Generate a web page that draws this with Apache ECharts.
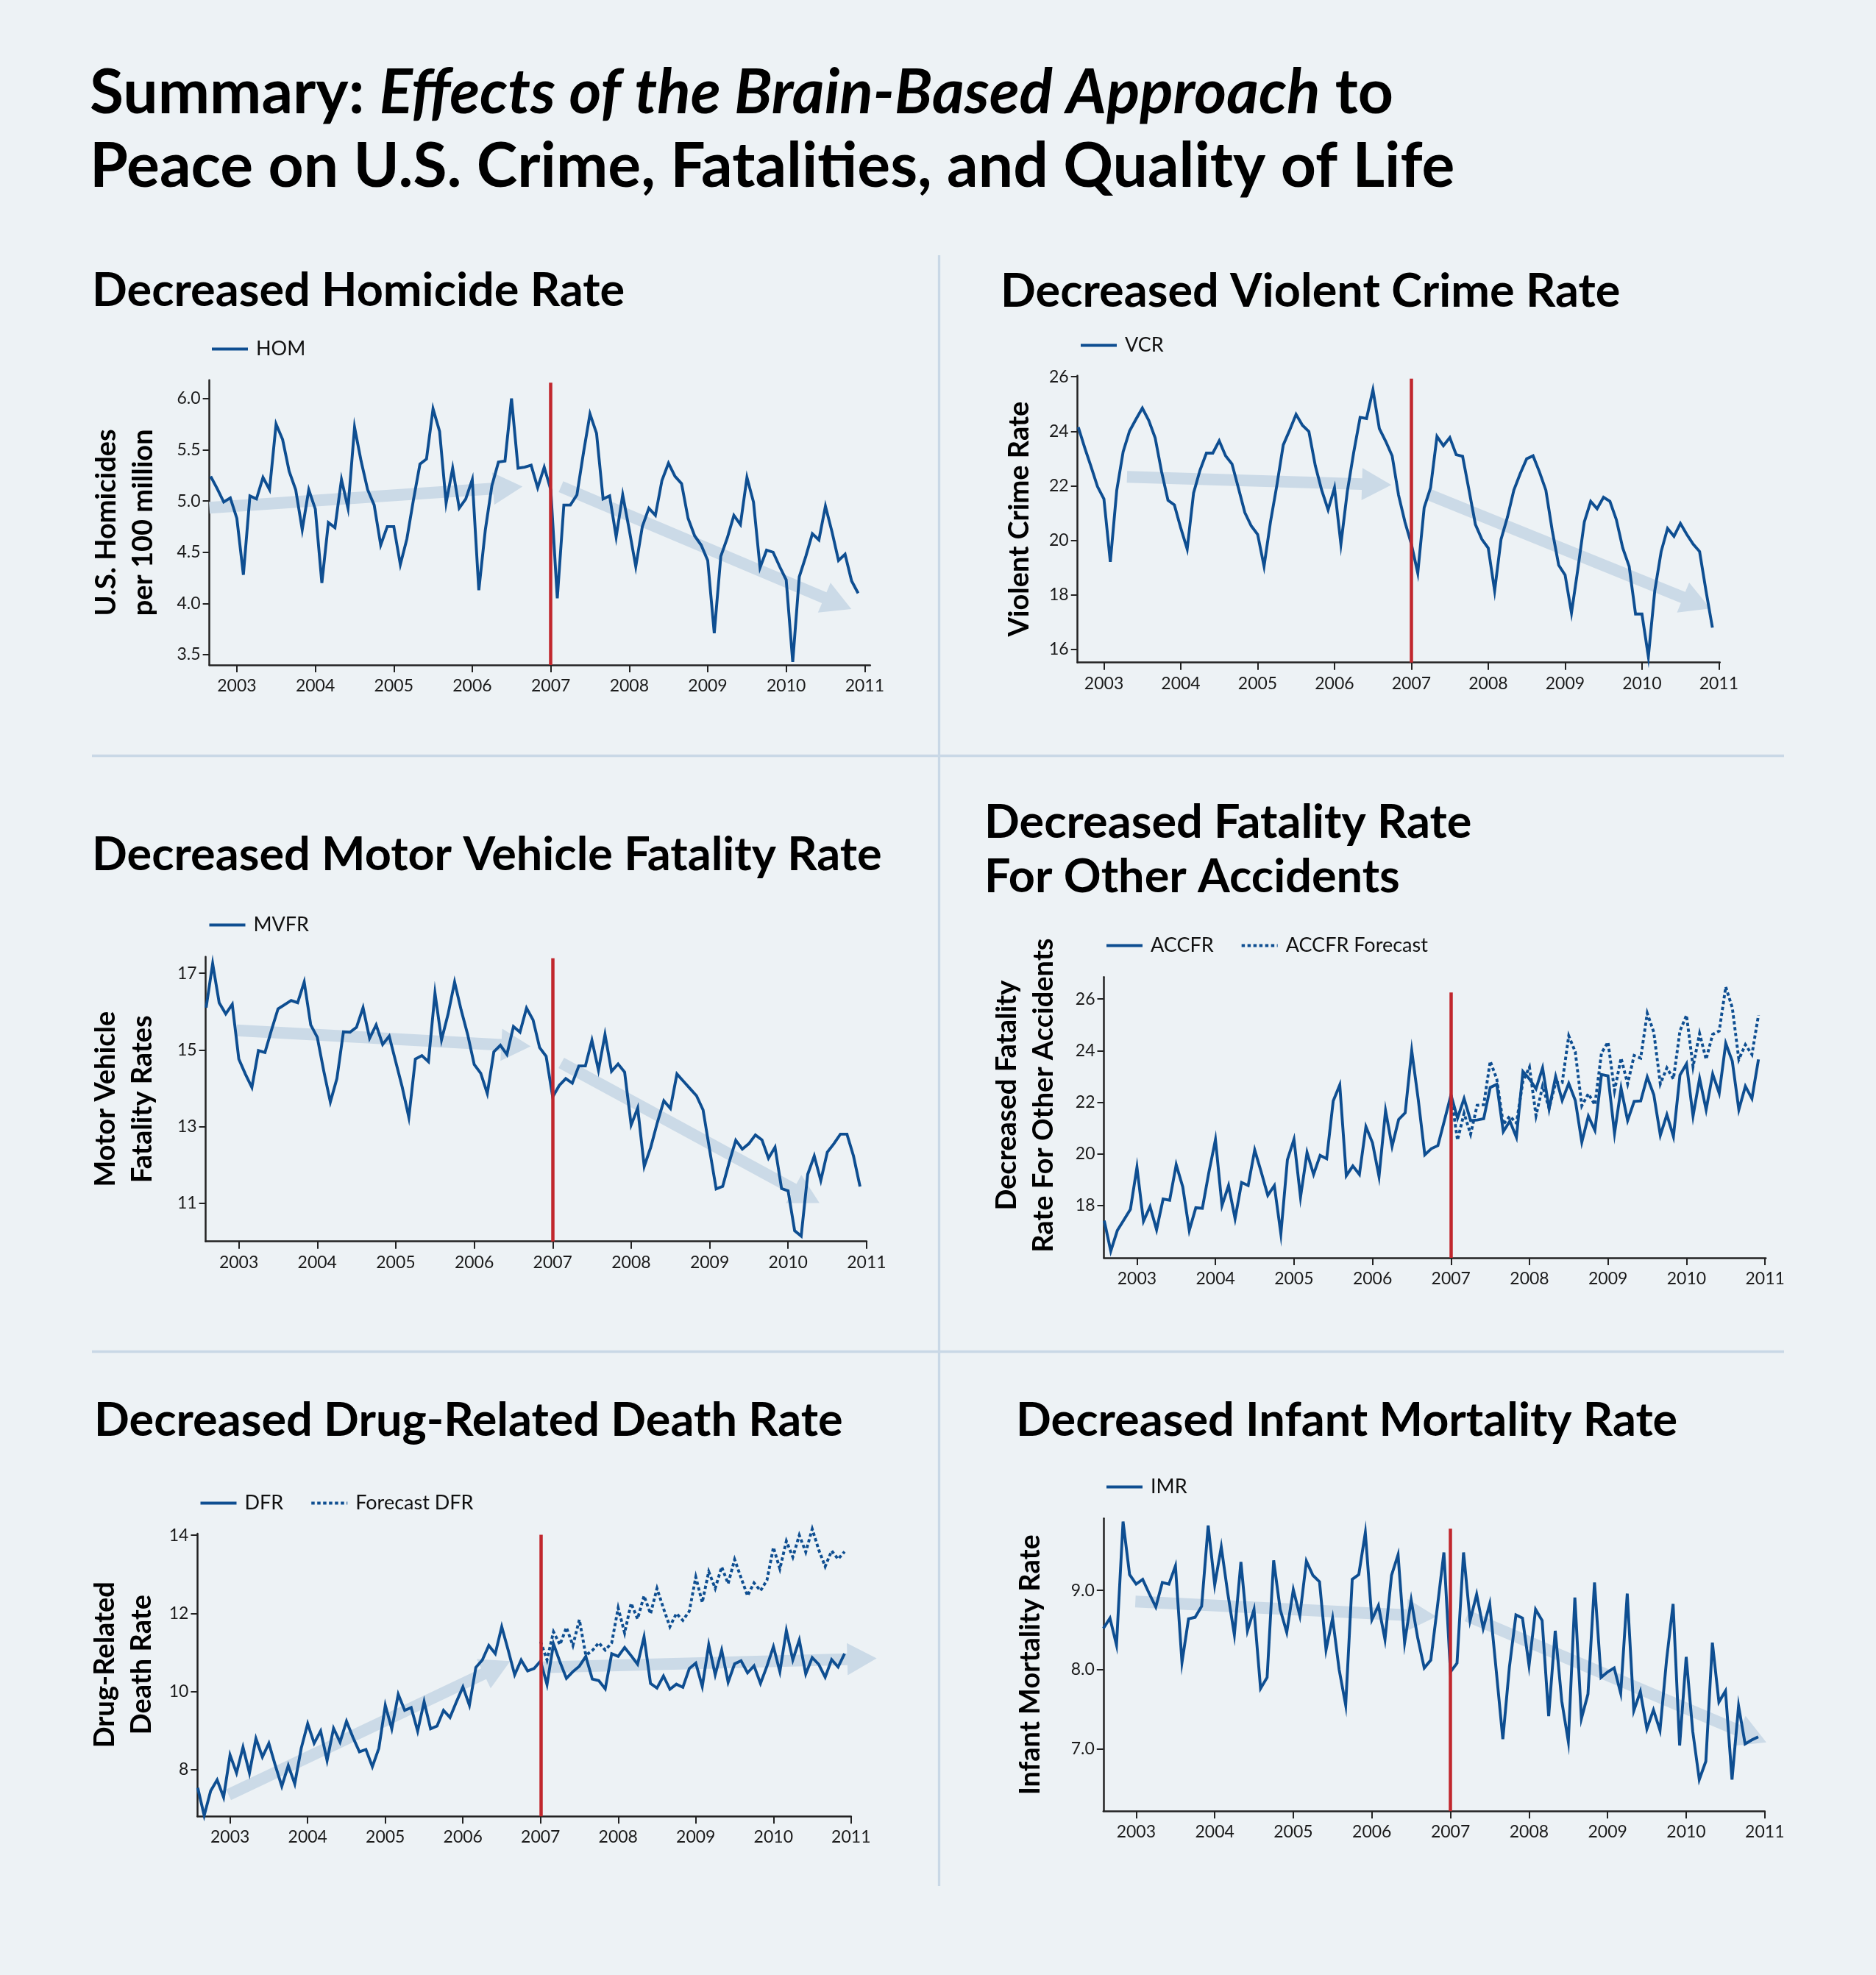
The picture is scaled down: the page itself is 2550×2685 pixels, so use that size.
<!DOCTYPE html>
<html>
<head>
<meta charset="utf-8">
<script src="https://cdn.jsdelivr.net/npm/echarts@6/dist/echarts.min.js"></script>
<style>
html,body{margin:0;padding:0;background:#EDF2F5;}
#chart{width:2550px;height:2685px;}
</style>
</head>
<body>
<div id="chart"></div>
<script>
// ---------------- DATA ----------------
const yearTicks = [2003, 2004, 2005, 2006, 2007, 2008, 2009, 2010, 2011];
const interventionYear = 2007;

// Monthly series. HOM and VCR start Sep 2002, the others Aug 2002; all end Dec 2010.
const homStart = [2002, 9];
const hom = [5.24, 5.12, 4.99, 5.03,
  4.83, 4.28, 5.05, 5.02, 5.23, 5.11, 5.75, 5.60, 5.29, 5.11, 4.72, 5.11,
  4.92, 4.20, 4.79, 4.74, 5.21, 4.93, 5.72, 5.39, 5.11, 4.96, 4.57, 4.75,
  4.75, 4.38, 4.63, 5.01, 5.36, 5.41, 5.90, 5.68, 4.98, 5.32, 4.93, 5.02,
  5.21, 4.13, 4.72, 5.15, 5.38, 5.39, 6.00, 5.32, 5.33, 5.35, 5.13, 5.33,
  5.11, 4.05, 4.96, 4.96, 5.06, 5.47, 5.85, 5.66, 5.02, 5.05, 4.65, 5.06,
  4.72, 4.36, 4.75, 4.93, 4.86, 5.20, 5.37, 5.24, 5.17, 4.83, 4.66, 4.57,
  4.42, 3.71, 4.46, 4.64, 4.86, 4.77, 5.23, 4.99, 4.35, 4.52, 4.50, 4.36,
  4.23, 3.43, 4.26, 4.46, 4.68, 4.62, 4.95, 4.70, 4.42, 4.48, 4.22, 4.10];

const vcrStart = [2002, 9];
const vcr = [24.15, 23.4, 22.7, 21.97,
  21.52, 19.21, 21.83, 23.25, 24.01, 24.44, 24.85, 24.4, 23.76, 22.52, 21.47, 21.30,
  20.45, 19.68, 21.74, 22.57, 23.2, 23.2, 23.65, 23.1, 22.8, 21.92, 21.02, 20.53,
  20.22, 19.05, 20.67, 22.02, 23.5, 24.04, 24.62, 24.22, 23.99, 22.74, 21.84, 21.12,
  21.93, 19.86, 21.79, 23.23, 24.51, 24.47, 25.52, 24.1, 23.63, 23.1, 21.66, 20.67,
  19.86, 18.8, 21.2, 21.93, 23.81, 23.47, 23.77, 23.14, 23.08, 21.84, 20.58, 20.04,
  19.72, 18.15, 20.04, 20.85, 21.84, 22.45, 22.99, 23.1, 22.51, 21.84, 20.35, 19.09,
  18.73, 17.34, 18.96, 20.67, 21.43, 21.16, 21.58, 21.43, 20.76, 19.72, 19.05, 17.3,
  17.3, 15.74, 18.15, 19.59, 20.44, 20.15, 20.62, 20.22, 19.86, 19.59, 18.15, 16.8];

const mvfrStart = [2002, 8];
const mvfr = [16.1, 17.25, 16.23, 15.94, 16.19,
  14.76, 14.37, 14.02, 14.98, 14.93, 15.52, 16.07, 16.18, 16.29, 16.23, 16.77, 15.65,
  15.33, 14.44, 13.64, 14.25, 15.47, 15.46, 15.59, 16.1, 15.30, 15.65, 15.14, 15.36,
  14.69, 14.02, 13.24, 14.76, 14.85, 14.69, 16.48, 15.26, 15.93, 16.77, 16.04, 15.4,
  14.62, 14.39, 13.86, 14.95, 15.12, 14.88, 15.61, 15.46, 16.09, 15.78, 15.06, 14.83,
  13.77, 14.07, 14.25, 14.13, 14.58, 14.58, 15.25, 14.47, 15.40, 14.44, 14.63, 14.42,
  13.04, 13.48, 11.96, 12.46, 13.10, 13.67, 13.47, 14.37, 14.18, 13.99, 13.80, 13.43,
  12.39, 11.37, 11.44, 12.07, 12.64, 12.41, 12.55, 12.78, 12.65, 12.17, 12.46, 11.38,
  11.32, 10.28, 10.14, 11.75, 12.23, 11.59, 12.33, 12.55, 12.80, 12.80, 12.23, 11.43];

const accfrStart = [2002, 8];
const accfr = [17.41, 16.23, 17.03, 17.44, 17.85,
  19.48, 17.39, 17.96, 17.06, 18.25, 18.2, 19.58, 18.72, 17.03, 17.91, 17.89, 19.29,
  20.55, 18.0, 18.77, 17.49, 18.89, 18.77, 20.15, 19.29, 18.39, 18.77, 16.9, 19.77,
  20.56, 18.32, 20.05, 19.2, 19.94, 19.81, 22.05, 22.67, 19.15, 19.53, 19.2, 21.05,
  20.43, 19.12, 21.67, 20.29, 21.33, 21.59, 24.0, 22.1, 19.96, 20.2, 20.32, 21.29,
  22.28, 21.38, 22.14, 21.29, 21.31, 21.36, 22.57, 22.69, 20.86, 21.27, 20.64, 23.19,
  22.90, 22.52, 23.33, 21.74, 23.0, 22.07, 22.73, 22.07, 20.45, 21.46, 20.91, 23.07,
  23.02, 20.79, 22.54, 21.29, 22.03, 22.05, 22.98, 22.29, 20.72, 21.52, 20.67, 23.05,
  23.49, 21.46, 22.92, 21.71, 23.09, 22.35, 24.28, 23.59, 21.71, 22.62, 22.14, 23.66];

const accfrForecastStart = [2007, 1];
const accfrForecast = [22.28, 20.53, 21.57, 20.76, 21.88, 21.90, 23.59, 22.90, 21.14, 21.46, 21.19, 22.81,
  23.36, 21.48, 22.62, 21.76, 22.76, 22.76, 24.57, 23.95, 21.86, 22.33, 21.90, 23.90,
  24.33, 22.45, 23.71, 22.71, 23.81, 23.71, 25.45, 24.71, 22.71, 23.33, 22.90, 24.76,
  25.37, 23.38, 24.66, 23.66, 24.63, 24.76, 26.47, 25.66, 23.66, 24.23, 23.85, 25.37];

const dfrStart = [2002, 8];
const dfr = [7.54, 6.83, 7.46, 7.74, 7.30,
  8.38, 7.92, 8.58, 7.92, 8.80, 8.33, 8.68, 8.11, 7.58, 8.11, 7.64, 8.55,
  9.18, 8.68, 8.99, 8.24, 9.06, 8.71, 9.24, 8.83, 8.46, 8.52, 8.08, 8.55,
  9.65, 9.05, 9.93, 9.52, 9.59, 8.99, 9.74, 9.05, 9.12, 9.52, 9.34, 9.74,
  10.12, 9.65, 10.62, 10.81, 11.18, 10.97, 11.66, 11.06, 10.43, 10.81, 10.53, 10.59,
  10.78, 10.18, 11.22, 10.76, 10.34, 10.51, 10.65, 10.90, 10.32, 10.28, 10.07, 10.97,
  10.90, 11.13, 10.92, 10.70, 11.40, 10.21, 10.09, 10.40, 10.06, 10.19, 10.11, 10.59,
  10.73, 10.13, 11.20, 10.43, 11.06, 10.24, 10.71, 10.79, 10.48, 10.66, 10.21, 10.65,
  11.15, 10.51, 11.56, 10.81, 11.32, 10.45, 10.87, 10.70, 10.37, 10.82, 10.63, 10.97];

const dfrForecastStart = [2007, 1];
const dfrForecast = [11.28, 10.81, 11.53, 11.20, 11.64, 11.18, 11.84, 10.93, 11.05, 11.25, 11.06, 11.25,
  12.14, 11.50, 12.26, 11.86, 12.45, 11.99, 12.64, 12.13, 11.66, 12.00, 11.82, 12.06,
  12.93, 12.28, 13.07, 12.64, 13.19, 12.76, 13.38, 12.91, 12.45, 12.78, 12.58, 12.85,
  13.69, 13.14, 13.85, 13.44, 14.00, 13.57, 14.16, 13.63, 13.20, 13.60, 13.39, 13.58];

const imrStart = [2002, 8];
const imr = [8.52, 8.65, 8.31, 9.87, 9.20,
  9.08, 9.14, 8.96, 8.79, 9.10, 9.08, 9.31, 8.09, 8.64, 8.66, 8.80, 9.82,
  9.07, 9.55, 8.96, 8.44, 9.36, 8.49, 8.76, 7.76, 7.90, 9.38, 8.76, 8.47,
  9.01, 8.68, 9.37, 9.19, 9.11, 8.25, 8.65, 8.00, 7.55, 9.14, 9.20, 9.73,
  8.63, 8.81, 8.38, 9.19, 9.45, 8.34, 8.88, 8.40, 8.02, 8.12, 8.79, 9.48,
  7.97, 8.08, 9.48, 8.62, 8.95, 8.52, 8.83, 7.98, 7.12, 8.03, 8.69, 8.65,
  8.05, 8.76, 8.62, 7.41, 8.49, 7.60, 7.09, 8.91, 7.38, 7.69, 9.10, 7.90,
  7.97, 8.02, 7.70, 8.96, 7.48, 7.72, 7.25, 7.49, 7.23, 8.12, 8.83, 7.04,
  8.16, 7.22, 6.61, 6.84, 8.34, 7.59, 7.73, 6.61, 7.54, 7.06, 7.11, 7.15];

// Trend arrows: [fromYear, fromValue, toYear, toValue]
const homArrows = [[2002.65, 4.935, 2006.64, 5.14], [2007.13, 5.14, 2010.83, 3.945]];
const vcrArrows = [[2003.30, 22.33, 2006.74, 22.03], [2007.21, 21.70, 2010.89, 17.5]];
const mvfrArrows = [[2002.97, 15.51, 2006.72, 15.09], [2007.11, 14.66, 2010.40, 11.0]];
const dfrArrows = [[2002.98, 7.36, 2006.61, 10.78], [2007.01, 10.62, 2011.33, 10.85]];
const imrArrows = [[2002.99, 8.86, 2006.82, 8.67], [2007.21, 8.68, 2011.02, 7.08]];

// Axis tick values
const homTicks = [3.5, 4.0, 4.5, 5.0, 5.5, 6.0];
const vcrTicks = [16, 18, 20, 22, 24, 26];
const mvfrTicks = [11, 13, 15, 17];
const accfrTicks = [18, 20, 22, 24, 26];
const dfrTicks = [8, 10, 12, 14];
const imrTicks = [7.0, 8.0, 9.0];

// ---------------- STYLE ----------------
const FONT = 'Lato, "Noto Sans", sans-serif';
const LINE_COLOR = '#0E4E91';
const RED = '#C1272D';
const ARROW = { color: '#CBDAE7', shaft: 16, headWidth: 44, headLength: 40 };

function monthly(start, values) {
  return values.map((v, i) => [start[0] + (start[1] - 1 + i) / 12, v]);
}

const panels = [
  { title: 'Decreased Homicide Rate', titlePos: [125, 364], yName: 'U.S. Homicides\nper 100 million', nameGap: 65, namePad: 0,
    grid: { left: 284.6, top: 516.7, width: 898.2, height: 387.3 }, x: [2002.65, 2011.07], y: [3.40, 6.18], ticks: homTicks, dec: 1, redTop: 6.155,
    legendPos: [286, 461], series: [{ name: 'HOM', start: homStart, data: hom }], arrows: homArrows },
  { title: 'Decreased Violent Crime Rate', titlePos: [1360, 365], yName: 'Violent Crime Rate', nameGap: 54, namePad: 0,
    grid: { left: 1464.7, top: 510.7, width: 873, height: 390 }, x: [2002.657, 2011.013], y: [15.52, 26.04], ticks: vcrTicks, dec: 0, redTop: 25.93,
    legendPos: [1467, 456], series: [{ name: 'VCR', start: vcrStart, data: vcr }], arrows: vcrArrows },
  { title: 'Decreased Motor Vehicle Fatality Rate', titlePos: [125, 1131], yName: 'Motor Vehicle\nFatality Rates', nameGap: 61, namePad: 0,
    grid: { left: 279.6, top: 1300.7, width: 898.3, height: 387 }, x: [2002.578, 2011.0], y: [10.0, 17.43], ticks: mvfrTicks, dec: 0, redTop: 17.39,
    legendPos: [282.5, 1244], series: [{ name: 'MVFR', start: mvfrStart, data: mvfr }], arrows: mvfrArrows },
  { title: 'Decreased Fatality Rate\nFor Other Accidents', titlePos: [1338, 1082], titleLH: 73.5, yName: 'Decreased Fatality\nRate For Other Accidents', nameGap: 57, namePad: 60,
    grid: { left: 1500.5, top: 1328.3, width: 899.7, height: 381.7 }, x: [2002.579, 2011.01], y: [15.97, 26.85], ticks: accfrTicks, dec: 0, redTop: 26.25,
    legendPos: [1502, 1272], series: [{ name: 'ACCFR', start: accfrStart, data: accfr }, { name: 'ACCFR Forecast', start: accfrForecastStart, data: accfrForecast, dotted: true }], arrows: [] },
  { title: 'Decreased Drug-Related Death Rate', titlePos: [128, 1900], yName: 'Drug-Related\nDeath Rate', nameGap: 51, namePad: 28,
    grid: { left: 268.4, top: 2085, width: 888.4, height: 384.3 }, x: [2002.58, 2011.0], y: [6.81, 14.04], ticks: dfrTicks, dec: 0, redTop: 14.01,
    legendPos: [270.5, 2030], series: [{ name: 'DFR', start: dfrStart, data: dfr }, { name: 'Forecast DFR', start: dfrForecastStart, data: dfrForecast, dotted: true }], arrows: dfrArrows },
  { title: 'Decreased Infant Mortality Rate', titlePos: [1381, 1900], yName: 'Infant Mortality Rate', nameGap: 74, namePad: 0,
    grid: { left: 1499.8, top: 2064.3, width: 899, height: 398 }, x: [2002.583, 2011.0], y: [6.21, 9.91], ticks: imrTicks, dec: 1, redTop: 9.78,
    legendPos: [1502, 2008], series: [{ name: 'IMR', start: imrStart, data: imr }], arrows: imrArrows }
];

function arrowItem(params, api) {
  const a = api.coord([api.value(0), api.value(1)]);
  const b = api.coord([api.value(2), api.value(3)]);
  const dx = b[0] - a[0], dy = b[1] - a[1];
  const len = Math.hypot(dx, dy) || 1;
  const ux = dx / len, uy = dy / len, nx = -uy, ny = ux;
  const sw = ARROW.shaft / 2, hw = ARROW.headWidth / 2, hl = ARROW.headLength;
  const bx = b[0] - ux * hl, by = b[1] - uy * hl;
  const pts = [
    [a[0] + nx * sw, a[1] + ny * sw], [bx + nx * sw, by + ny * sw], [bx + nx * hw, by + ny * hw],
    [b[0], b[1]],
    [bx - nx * hw, by - ny * hw], [bx - nx * sw, by - ny * sw], [a[0] - nx * sw, a[1] - ny * sw]
  ];
  return { type: 'polygon', shape: { points: pts }, style: { fill: ARROW.color } };
}

const option = {
  animation: false,
  backgroundColor: '#EDF2F5',
  textStyle: { fontFamily: FONT },
  title: [], grid: [], xAxis: [], yAxis: [], series: [], legend: [],
  graphic: [
    { type: 'line', silent: true, shape: { x1: 1276.5, y1: 347, x2: 1276.5, y2: 2564 }, style: { stroke: '#C9D8E6', lineWidth: 3.3 } },
    { type: 'line', silent: true, shape: { x1: 125, y1: 1027.5, x2: 2425, y2: 1027.5 }, style: { stroke: '#C9D8E6', lineWidth: 3.3 } },
    { type: 'line', silent: true, shape: { x1: 125, y1: 1837.5, x2: 2425, y2: 1837.5 }, style: { stroke: '#C9D8E6', lineWidth: 3.3 } }
  ]
};

option.title.push({
  left: 122, top: 77, padding: 0,
  text: '{b|Summary: }{i|Effects of the Brain-Based Approach}{b| to}\n{b|Peace on U.S. Crime, Fatalities, and Quality of Life}',
  textStyle: {
    rich: {
      b: { fontFamily: FONT, fontWeight: 'bold', fontSize: 84, lineHeight: 100, color: '#000' },
      i: { fontFamily: FONT, fontWeight: 'bold', fontStyle: 'italic', fontSize: 84, lineHeight: 100, color: '#000' }
    }
  }
});

panels.forEach((p, k) => {
  option.title.push({
    left: p.titlePos[0], top: p.titlePos[1], padding: 0, text: p.title,
    textStyle: { fontFamily: FONT, fontWeight: 'bold', fontSize: 63, lineHeight: p.titleLH || 63, color: '#000' }
  });
  option.grid.push(Object.assign({ containLabel: false }, p.grid));
  const years = yearTicks;
  option.xAxis.push({
    type: 'value', gridIndex: k, min: p.x[0], max: p.x[1],
    splitLine: { show: false },
    axisLine: { onZero: false, lineStyle: { color: '#222', width: 2.5 } },
    axisTick: { customValues: years, length: 10, lineStyle: { color: '#222', width: 2 } },
    axisLabel: { customValues: years, margin: 17, fontFamily: FONT, fontSize: 23, color: '#1a1a1a', formatter: v => String(Math.round(v)) }
  });
  option.yAxis.push({
    type: 'value', gridIndex: k, min: p.y[0], max: p.y[1],
    splitLine: { show: false },
    axisLine: { show: true, onZero: false, lineStyle: { color: '#222', width: 2.5 } },
    axisTick: { show: true, customValues: p.ticks, length: 9, lineStyle: { color: '#222', width: 2 } },
    axisLabel: { customValues: p.ticks, margin: 12, fontFamily: FONT, fontSize: 23, color: '#1a1a1a', formatter: v => v.toFixed(p.dec) },
    name: p.yName, nameLocation: 'middle', nameRotate: 90, nameGap: p.nameGap,
    nameTextStyle: { fontFamily: FONT, fontWeight: 'bold', fontSize: 38, lineHeight: 50, color: '#000', padding: [0, 0, 0, p.namePad] }
  });
  if (p.arrows.length) {
    option.series.push({
      type: 'custom', name: 'trend-' + k, xAxisIndex: k, yAxisIndex: k, silent: true, clip: false, z: 1,
      renderItem: arrowItem, data: p.arrows
    });
  }
  p.series.forEach((s, j) => {
    const ser = {
      type: 'line', name: s.name, xAxisIndex: k, yAxisIndex: k, data: monthly(s.start, s.data),
      symbol: 'none', showSymbol: false, z: 3, clip: false,
      lineStyle: { color: LINE_COLOR, width: 3.9, type: s.dotted ? [4.5, 3.5] : 'solid', join: 'miter' },
      itemStyle: { color: LINE_COLOR }
    };
    if (j === 0) {
      ser.markLine = {
        silent: true, symbol: ['none', 'none'], label: { show: false }, z: 5,
        lineStyle: { color: RED, width: 4.5, type: 'solid' },
        emphasis: { disabled: true },
        data: [[{ coord: [interventionYear, p.y[0]] }, { coord: [interventionYear, p.redTop] }]]
      };
    }
    option.series.push(ser);
  });
  option.legend.push({
    left: p.legendPos[0], top: p.legendPos[1], padding: 0, itemGap: 36,
    itemWidth: 49, itemHeight: 14,
    data: p.series.map(s => s.name),
    selectedMode: false,
    itemStyle: { opacity: 0, borderWidth: 0 },
    lineStyle: { width: 4 },
    textStyle: { fontFamily: FONT, fontSize: 27, color: '#111', padding: [0, 0, 0, 6] }
  });
});

const chart = echarts.init(document.getElementById('chart'), null, { renderer: 'canvas' });
chart.setOption(option);
</script>
</body>
</html>
